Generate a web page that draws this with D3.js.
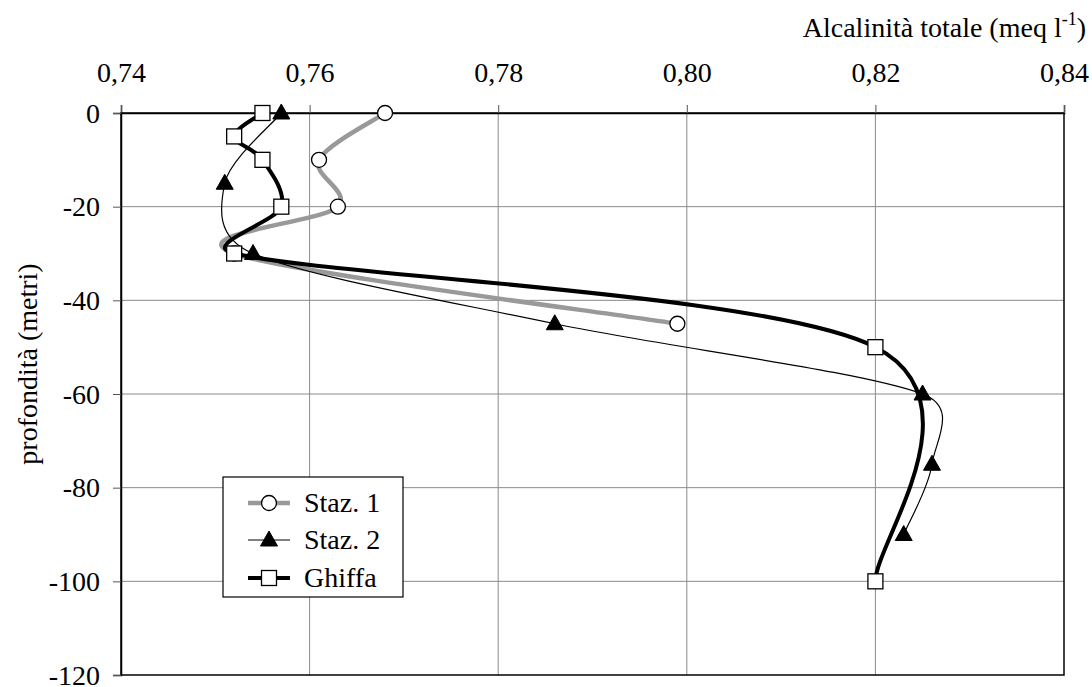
<!DOCTYPE html>
<html>
<head>
<meta charset="utf-8">
<script src="https://cdn.jsdelivr.net/npm/d3@7/dist/d3.min.js"></script>
<style>
  html, body { margin: 0; padding: 0; background: #fff; }
  svg { display: block; }
  text { font-family: "Liberation Serif", "Times New Roman", "DejaVu Serif", serif; fill: #000; }
</style>
</head>
<body>
<svg id="chart" width="1092" height="687"></svg>
<script>
// ---- data ----
const xTicks = [0.74, 0.76, 0.78, 0.80, 0.82, 0.84];
const yTicks = [0, -20, -40, -60, -80, -100, -120];

const staz1Depth = [0, -10, -20, -30, -45];
const staz1Alk   = [0.768, 0.761, 0.763, 0.752, 0.799];

const staz2Depth = [0, -15, -30, -45, -60, -75, -90];
const staz2Alk   = [0.757, 0.751, 0.754, 0.786, 0.825, 0.826, 0.823];

const ghiffaDepth = [0, -5, -10, -20, -30, -50, -100];
const ghiffaAlk   = [0.755, 0.752, 0.755, 0.757, 0.752, 0.820, 0.820];

const seriesNames = ["Staz. 1", "Staz. 2", "Ghiffa"];

// ---- layout ----
const FONT = '"Liberation Serif", "Times New Roman", "DejaVu Serif", serif';
const FS = 28;
const svg = d3.select("#chart");
const pLeft = 121, pRight = 1064, pTop = 113, pBottom = 675;

const x = d3.scaleLinear().domain([0.74, 0.84]).range([pLeft, pRight]);
const y = d3.scaleLinear().domain([0, -120]).range([pTop, pBottom]);

const fmtX = d => d3.format(".2f")(d).replace(".", ",");
const fmtY = d => String(d);

// gridlines
const g = svg.append("g");
g.selectAll("line.vg").data(xTicks.slice(1, -1)).enter().append("line")
  .attr("x1", d => x(d)).attr("x2", d => x(d))
  .attr("y1", pTop).attr("y2", pBottom)
  .attr("stroke", "#8a8a8a").attr("stroke-width", 1);
g.selectAll("line.hg").data(yTicks.slice(1, -1)).enter().append("line")
  .attr("x1", pLeft).attr("x2", pRight)
  .attr("y1", d => y(d)).attr("y2", d => y(d))
  .attr("stroke", "#8a8a8a").attr("stroke-width", 1);

// frame
svg.append("rect").attr("x", pLeft).attr("y", pTop)
  .attr("width", pRight - pLeft).attr("height", pBottom - pTop)
  .attr("fill", "none").attr("stroke", "#000").attr("stroke-width", 1.5);

// axes
const xAxis = svg.append("g").attr("transform", `translate(0,${pTop})`)
  .call(d3.axisTop(x).tickValues(xTicks).tickFormat(fmtX).tickSize(8).tickPadding(23));
const yAxis = svg.append("g").attr("transform", `translate(${pLeft},0)`)
  .call(d3.axisLeft(y).tickValues(yTicks).tickFormat(fmtY).tickSize(8).tickPadding(13));
[xAxis, yAxis].forEach(a => {
  a.attr("font-family", FONT).attr("font-size", FS);
  a.select(".domain").attr("stroke", "#000").attr("stroke-width", 1.5);
  a.selectAll(".tick line").attr("stroke", "#555").attr("stroke-width", 1);
  a.selectAll(".tick text").attr("fill", "#000");
});
yAxis.selectAll(".tick text").attr("dy", "0.33em");

// titles
const t = svg.append("text").attr("x", 1086).attr("y", 37)
  .attr("text-anchor", "end").attr("font-family", FONT).attr("font-size", FS);
t.append("tspan").text("Alcalinità totale (meq l");
t.append("tspan").attr("dy", -12).attr("font-size", 18).text("-1");
t.append("tspan").attr("dy", 12).text(")");

svg.append("text")
  .attr("transform", `translate(37,364) rotate(-90)`)
  .attr("text-anchor", "middle").attr("font-family", FONT).attr("font-size", FS)
  .text("profondità (metri)");

// ---- series ----
const mk = (alk, dep) => alk.map((v, i) => [v, dep[i]]);
const series = [
  { data: mk(staz1Alk, staz1Depth), color: "#999999", width: 4.5, marker: "circle" },
  { data: mk(staz2Alk, staz2Depth), color: "#000", width: 1.2, marker: "triangle" },
  { data: mk(ghiffaAlk, ghiffaDepth), color: "#000", width: 4, marker: "square" }
];

// smoothed line (Catmull-Rom style Bezier, control arms limited by segment length)
function smoothPath(data) {
  const p = data.map(d => [x(d[0]), y(d[1])]);
  const n = p.length;
  const path = d3.path();
  path.moveTo(p[0][0], p[0][1]);
  const LIM = 0.55;
  const tang = i => {
    const a = p[Math.max(0, i - 1)], b = p[Math.min(n - 1, i + 1)];
    return [(b[0] - a[0]) / 6, (b[1] - a[1]) / 6];
  };
  for (let i = 0; i < n - 1; i++) {
    const a = p[i], b = p[i + 1];
    const seg = Math.hypot(b[0] - a[0], b[1] - a[1]);
    let ta = tang(i), tb = tang(i + 1);
    const la = Math.hypot(ta[0], ta[1]), lb = Math.hypot(tb[0], tb[1]);
    if (la > LIM * seg) { const s = LIM * seg / la; ta = [ta[0] * s, ta[1] * s]; }
    if (lb > LIM * seg) { const s = LIM * seg / lb; tb = [tb[0] * s, tb[1] * s]; }
    path.bezierCurveTo(a[0] + ta[0], a[1] + ta[1], b[0] - tb[0], b[1] - tb[1], b[0], b[1]);
  }
  return path.toString();
}

series.forEach(s => {
  svg.append("path").attr("d", smoothPath(s.data)).attr("fill", "none")
    .attr("stroke", s.color).attr("stroke-width", s.width)
    .attr("stroke-linejoin", "round").attr("stroke-linecap", "round");
});

function drawMarker(sel, type, cx, cy) {
  if (type === "circle") {
    sel.append("circle").attr("cx", cx).attr("cy", cy).attr("r", 7.5)
      .attr("fill", "#fff").attr("stroke", "#000").attr("stroke-width", 1.3);
  } else if (type === "square") {
    sel.append("rect").attr("x", cx - 7.5).attr("y", cy - 7.5)
      .attr("width", 15).attr("height", 15)
      .attr("fill", "#fff").attr("stroke", "#000").attr("stroke-width", 1.3);
  } else {
    sel.append("path")
      .attr("d", `M${cx},${cy - 9}L${cx + 8.5},${cy + 6}L${cx - 8.5},${cy + 6}Z`)
      .attr("fill", "#000").attr("stroke", "#000").attr("stroke-width", 1);
  }
}

series.forEach(s => {
  const mg = svg.append("g");
  s.data.forEach(d => drawMarker(mg, s.marker, x(d[0]), y(d[1])));
});

// ---- legend ----
const lg = svg.append("g");
lg.append("rect").attr("x", 223).attr("y", 477).attr("width", 180).attr("height", 120)
  .attr("fill", "#fff").attr("stroke", "#000").attr("stroke-width", 1.2);
const legY = [503, 540, 578];
series.forEach((s, i) => {
  const yy = legY[i];
  lg.append("line").attr("x1", 248).attr("x2", 290).attr("y1", yy).attr("y2", yy)
    .attr("stroke", s.color).attr("stroke-width", s.width);
  drawMarker(lg, s.marker, 269, yy);
  lg.append("text").attr("x", 304).attr("y", yy + 9)
    .attr("font-family", FONT).attr("font-size", FS)
    .text(seriesNames[i]);
});
</script>
</body>
</html>
